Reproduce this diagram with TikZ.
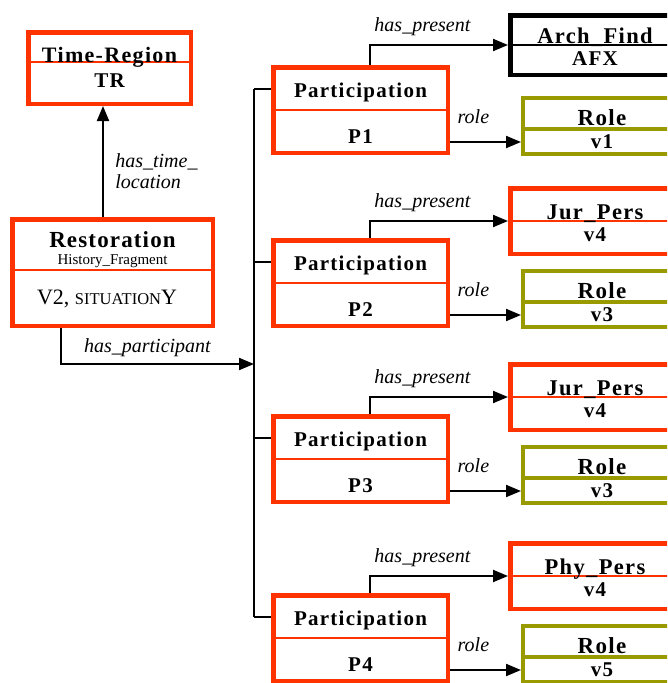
\documentclass[tikz,border=0pt]{standalone}
\usepackage{fontspec}
\setmainfont{Liberation Serif}
\usetikzlibrary{arrows.meta}
\definecolor{boxred}{RGB}{255,51,0}
\definecolor{boxolive}{RGB}{153,153,0}
\newcommand{\tf}{\fontsize{21}{24}\selectfont\bfseries\addfontfeature{LetterSpace=6}}
\newcommand{\lf}{\fontsize{20}{21}\selectfont\itshape}
\begin{document}
\begin{tikzpicture}[x=1pt,y=-1pt,
    link/.style={line width=2pt},
    arr/.style={link,-{Triangle[length=15pt,width=12pt]}},
    txt/.style={anchor=base,inner sep=1pt},
    redbox/.style={draw=boxred,line width=4.5pt,inner sep=0pt},
    findbox/.style={draw=black,line width=4.5pt,inner sep=0pt,minimum width=169.5pt,minimum height=59.5pt},
    persbox/.style={redbox,minimum width=169.5pt,minimum height=65.5pt},
    rolebox/.style={draw=boxolive,line width=4pt,inner sep=0pt,minimum width=158pt,minimum height=56pt},
    redsep/.style={boxred,line width=1.5pt},
    blacksep/.style={black,line width=1.5pt},
    olivesep/.style={boxolive,line width=4pt}]
    \useasboundingbox (0,0) rectangle (667,683);
    \clip (0,0) rectangle (667,683);
    %% Time-Region
    \node[redbox,minimum width=162.5pt,minimum height=71.5pt] (tr) at (109.5,68) {};
    \draw[redsep] ([yshift=6pt]tr.west) -- ([yshift=6pt]tr.east);
    \node[txt] (trname) at ([yshift=6pt]tr.center) {\tf\fontsize{22}{24}\selectfont Time-Region};
    \node[txt] (trid) at ([yshift=-19pt]tr.center) {\tf TR};
    %% Restoration
    \node[redbox,minimum width=200.5pt,minimum height=106.5pt] (rest) at (112.5,272.5) {};
    \draw[redsep] ([yshift=2.5pt]rest.west) -- ([yshift=2.5pt]rest.east);
    \node[txt,inner sep=0pt] (restname) at ([yshift=25pt]rest.center) {\fontsize{23}{26}\selectfont\bfseries\addfontfeature{LetterSpace=5}Restoration};
    \node[txt,inner sep=0pt] (restkind) at ([yshift=8.5pt]rest.center) {\fontsize{15}{17}\selectfont History\_Fragment};
    \node[txt] (restid) at ([xshift=-5.5pt,yshift=-31.5pt]rest.center) {\fontsize{22}{24}\selectfont V2, {\fontsize{16.5}{18}\selectfont SITUATION}Y};
    %% time location
    \draw[arr] ([xshift=-9.5pt]rest.north) -- node[pos=0.41,anchor=west,xshift=8pt,align=left,font=\lf] (htl) {has\_time\_\\location} ([xshift=-6.5pt]tr.south);
    %% participations
    \coordinate (bus) at (254,364);
    \foreach \n/\ty/\kind/\sep/\who/\id/\rv in {1/65/findbox/blacksep/Arch\_Find/AFX/v1,
                                               2/238/persbox/redsep/Jur\_Pers/v4/v3,
                                               3/414/persbox/redsep/Jur\_Pers/v4/v3,
                                               4/593/persbox/redsep/Phy\_Pers/v4/v5}{
        \node[redbox,minimum width=174.5pt,minimum height=85.5pt] (p\n) at (360.5,\ty+45) {};
        \draw[redsep] (p\n.west) -- (p\n.east);
        \node[txt] (pname\n) at ([yshift=13pt]p\n.center) {\tf Participation};
        \node[txt] (pid\n) at ([yshift=-33pt]p\n.center) {\tf P\n};
        %% present thing
        \node[\kind,anchor=north] (c\n) at (595,\ty-52) {};
        \draw[\sep] (c\n.west) -- (c\n.east);
        \node[txt] (cname\n) at ([yshift=2pt]c\n.center) {\tf\fontsize{22.5}{25}\selectfont \who};
        \node[txt] (cid\n) at ([yshift=-20pt]c\n.center) {\tf \id};
        %% role
        \node[rolebox,anchor=north] (r\n) at (602,\ty+31) {};
        \draw[olivesep] ([yshift=-2.5pt]r\n.west) -- ([yshift=-2.5pt]r\n.east);
        \node[txt] (rname\n) at ([yshift=1pt]r\n.center) {\tf\fontsize{23}{26}\selectfont Role};
        \node[txt] (rid\n) at ([yshift=-22pt]r\n.center) {\tf \rv};
        %% links
        \draw[arr] ([xshift=9.5pt]p\n.north) |- node[pos=0.69,txt,yshift=14pt,font=\lf] (hp\n) {has\_present} (c\n.west);
        \coordinate (q\n) at ([yshift=-16pt]r\n.west);
        \draw[arr] (p\n.east |- q\n) -- node[pos=0.33,txt,yshift=19pt,font=\lf] (rl\n) {role} (q\n);
        \coordinate (s\n) at ([yshift=21pt]p\n.west);
        \draw[link] (bus |- s\n) -- (s\n);
    }
    %% bus
    \draw[link] (bus |- s1) -- (bus |- s4);
    \draw[arr] ([xshift=-51.5pt]rest.south) |- node[pos=0.724,txt,yshift=12pt,font=\lf] (hpart) {has\_participant} (bus);
\end{tikzpicture}
\end{document}
